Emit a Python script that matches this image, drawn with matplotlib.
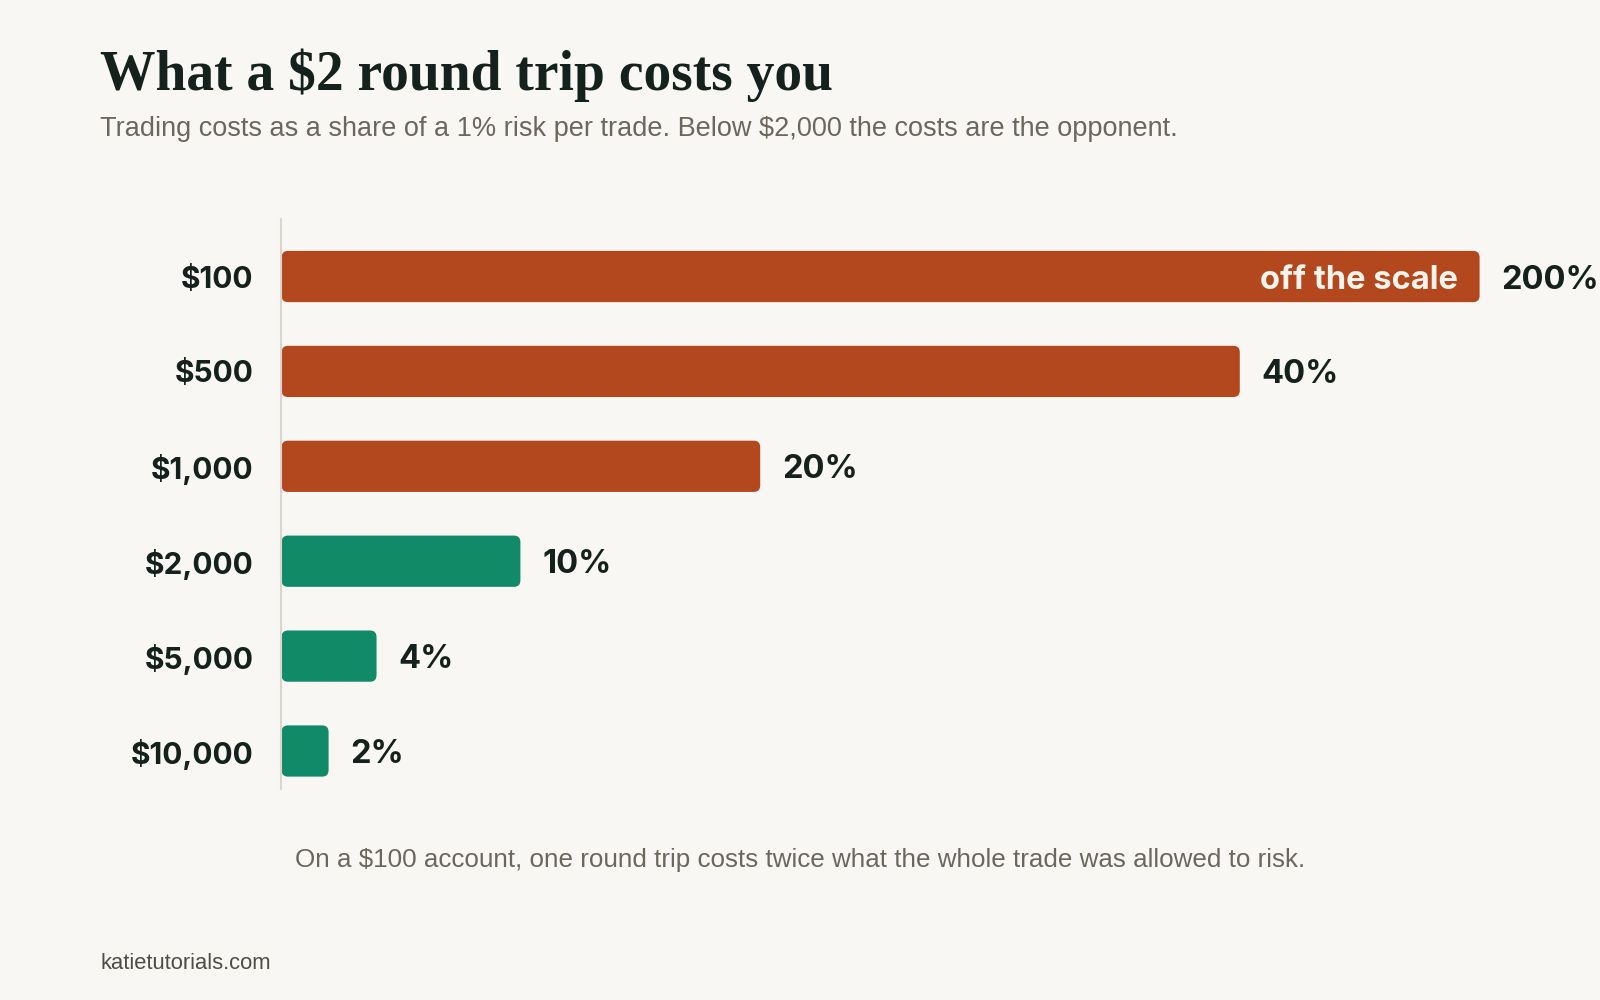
import matplotlib
matplotlib.use("Agg")
import matplotlib.pyplot as plt
from matplotlib.patches import FancyBboxPatch

# ---- data ----
accounts = ["$100", "$500", "$1,000", "$2,000", "$5,000", "$10,000"]
cost_pct = [200, 40, 20, 10, 4, 2]
value_labels = ["200%", "40%", "20%", "10%", "4%", "2%"]
display_cap = 50          # bars beyond this are drawn clipped ("off the scale")
threshold = 10            # at or below this share, costs are acceptable

title = "What a $2 round trip costs you"
subtitle = "Trading costs as a share of a 1% risk per trade. Below $2,000 the costs are the opponent."
note = "On a $100 account, one round trip costs twice what the whole trade was allowed to risk."
footer = "katietutorials.com"

# ---- style ----
BG = "#F9F7F3"
RED = "#B3471E"
GREEN = "#118A68"
DARK = "#15211C"
GREY = "#6B675E"
AXIS = "#DAD6CF"

W, H = 1568.0, 980.0   # reference pixel space used for layout fractions

fig = plt.figure(figsize=(16, 10), dpi=100, facecolor=BG)
xmax = 51.7
ax = fig.add_axes([275 / W, 1 - 773 / H, (xmax * 23.5) / W, (773 - 215) / H])
ax.set_facecolor(BG)
ax.set_xlim(0, xmax)
ax.set_ylim(len(accounts) - 1 + 0.398, -0.602)

bar_h = 0.54
rx = 0.27
aspect = (1 / 93.0) / (1 / 23.5)
for i, (v, lab) in enumerate(zip(cost_pct, value_labels)):
    shown = min(v, display_cap)
    color = GREEN if v <= threshold else RED
    p = FancyBboxPatch((0.04, i - bar_h / 2), shown - 0.04, bar_h,
                       boxstyle=f"round,pad=0,rounding_size={rx}",
                       mutation_aspect=aspect, facecolor=color,
                       edgecolor="none", clip_on=False)
    ax.add_patch(p)
    ax.text(shown + 0.92, i, lab, ha="left", va="center_baseline",
            fontsize=23.5, fontweight="bold", family="Inter", color=DARK,
            clip_on=False)
    if v > display_cap:
        ax.text(shown - 0.92, i, "off the scale", ha="right",
                va="center_baseline", fontsize=23.5, fontweight="bold",
                family="Inter", color="#FBF3EC")

ax.set_yticks(range(len(accounts)))
ax.set_yticklabels(accounts, fontsize=21.5, fontweight="bold", family="Inter",
                   color=DARK)
ax.tick_params(axis="y", length=0, pad=19.5)
ax.set_xticks([])
for s in ["top", "right", "bottom"]:
    ax.spines[s].set_visible(False)
ax.spines["left"].set_color(AXIS)
ax.spines["left"].set_linewidth(1.5)

fig.text(98 / W, 1 - 88 / H, title, ha="left", va="baseline",
         fontsize=40, fontweight="bold", family="Liberation Serif", color=DARK)
fig.text(98 / W, 1 - 133 / H, subtitle, ha="left", va="baseline",
         fontsize=19.5, family="Liberation Sans", color=GREY)
fig.text(0.5, 1 - 850 / H, note, ha="center", va="baseline",
         fontsize=18.7, family="Liberation Sans", color=GREY)
fig.text(98 / W, 1 - 950 / H, footer, ha="left", va="baseline",
         fontsize=15.8, family="Liberation Sans", color="#4F4C46")

fig.savefig("out.png", dpi=100, facecolor=BG)
